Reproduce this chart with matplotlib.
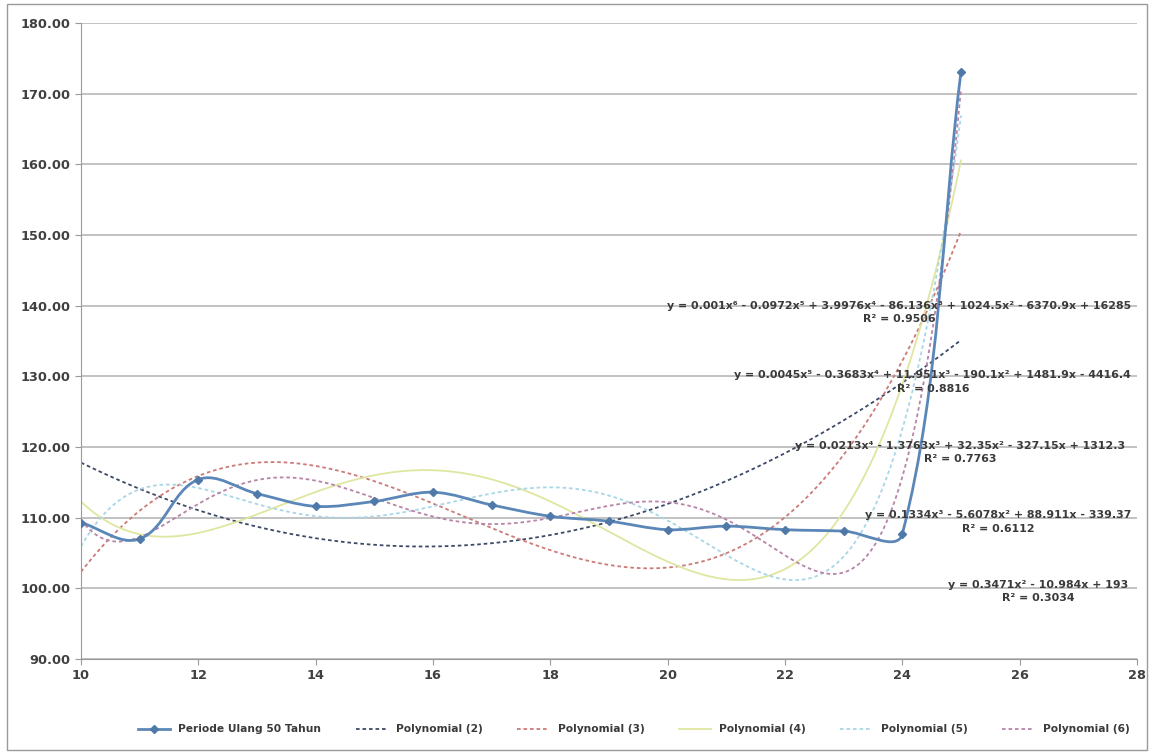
import numpy as np
import matplotlib
matplotlib.use("Agg")
from matplotlib import pyplot as plt
from matplotlib.path import Path
from matplotlib.patches import PathPatch, Rectangle
from matplotlib.lines import Line2D

# data
years = [10, 11, 12, 13, 14, 15, 16, 17, 18, 19, 20, 21, 22, 23, 24, 25]
rain = [109.3, 107.0, 115.4, 113.4, 111.6, 112.3, 113.6, 111.8, 110.2,
        109.5, 108.3, 108.8, 108.3, 108.1, 107.7, 173.1]
series_name = "Periode Ulang 50 Tahun"

degrees = [2, 3, 4, 5, 6]
trend_colors = ["#3d4a66", "#cc7a78", "#dfe6a0", "#a9d6e6", "#b784a8"]
trend_styles = [(0, (2, 1.6)), (0, (2, 1.6)), "-", (0, (2, 1.6)), (0, (2, 1.6))]
equations = [
    "y = 0.3471x² - 10.984x + 193\nR² = 0.3034",
    "y = 0.1334x³ - 5.6078x² + 88.911x - 339.37\nR² = 0.6112",
    "y = 0.0213x⁴ - 1.3763x³ + 32.35x² - 327.15x + 1312.3\nR² = 0.7763",
    "y = 0.0045x⁵ - 0.3683x⁴ + 11.951x³ - 190.1x² + 1481.9x - 4416.4\nR² = 0.8816",
    "y = 0.001x⁶ - 0.0972x⁵ + 3.9976x⁴ - 86.136x³ + 1024.5x² - 6370.9x + 16285\nR² = 0.9506",
]
# label anchor for each equation block, right aligned
eq_pos = [(27.85, 99.6), (27.9, 109.4), (27.8, 119.2), (27.9, 129.2), (27.9, 139.0)]

xticks = list(range(10, 29, 2))
yticks = list(range(90, 181, 10))

plt.rcParams['font.family'] = ['DejaVu Sans']
fig = plt.figure(figsize=(11.56, 7.55), dpi=100)
ax = fig.add_axes([81/1156, 1 - 659/755, (1137-81)/1156, (659-23)/755])

fig.patches.append(Rectangle((7/1156, 5/755), 1140/1156, 746/755, transform=fig.transFigure,
                             fill=False, edgecolor="#9a9a9a", lw=1))

ax.set_xlim(10, 28)
ax.set_ylim(90, 180)
ax.set_xticks(xticks)
ax.set_yticks(yticks)
ax.set_yticklabels(["%.2f" % v for v in yticks])
ax.grid(axis="y", color="#bdbdbd", lw=1.3)
ax.set_axisbelow(True)
for s in ["top", "right"]:
    ax.spines[s].set_visible(False)
for s in ["left", "bottom"]:
    ax.spines[s].set_color("#9a9a9a")
ax.tick_params(colors="#9a9a9a", labelcolor="#404040", labelsize=9.3, length=4)
for lab in ax.get_xticklabels() + ax.get_yticklabels():
    lab.set_fontweight("bold")

# polynomial trendlines
xs = np.linspace(10, 25, 400)
for d, c, ls in zip(degrees, trend_colors, trend_styles):
    p = np.polynomial.Polynomial.fit(years, rain, d)
    ax.plot(xs, p(xs), color=c, ls=ls, lw=1.3, zorder=2)

# smoothed series line: cubic beziers, tangent length tied to segment length (screen scale)
sx, sy = 58.67, 7.07
pts = np.column_stack([years, rain])
scr = pts * [sx, sy]
verts = [pts[0]]
codes = [Path.MOVETO]
n = len(pts)

def tangent(i):
    a = scr[max(i - 1, 0)]
    b = scr[min(i + 1, n - 1)]
    t = b - a
    return t / np.hypot(*t)

for i in range(n - 1):
    L = np.hypot(*(scr[i + 1] - scr[i]))
    c1 = (scr[i] + tangent(i) * L / 3) / [sx, sy]
    c2 = (scr[i + 1] - tangent(i + 1) * L / 3) / [sx, sy]
    verts += [c1, c2, pts[i + 1]]
    codes += [Path.CURVE4] * 3
ax.add_patch(PathPatch(Path(verts, codes), fill=False, edgecolor="#5b87b8", lw=2, zorder=3))
ax.plot(years, rain, ls="none", marker="D", ms=4, color="#4f79a8", zorder=4)

for txt, (x, y) in zip(equations, eq_pos):
    ax.text(x, y, txt, ha="right", va="center", multialignment="center",
            fontsize=7.9, fontweight="bold", color="#3a3a3a", zorder=5, linespacing=1.4)

handles = [Line2D([], [], color="#5b87b8", lw=2, marker="D", ms=4, mfc="#4f79a8", mec="#4f79a8")]
labels = [series_name]
for d, c, ls in zip(degrees, trend_colors, trend_styles):
    handles.append(Line2D([], [], color=c, ls=ls, lw=1.3))
    labels.append("Polynomial (%d)" % d)
leg = fig.legend(handles, labels, loc="center", bbox_to_anchor=(0.548, 0.034), ncol=6,
                 frameon=False, fontsize=7.7, handlelength=3, columnspacing=3.2,
                 prop={"weight": "bold", "size": 7.7})
for t in leg.get_texts():
    t.set_color("#3a3a3a")

fig.savefig("out.png", dpi=100)
